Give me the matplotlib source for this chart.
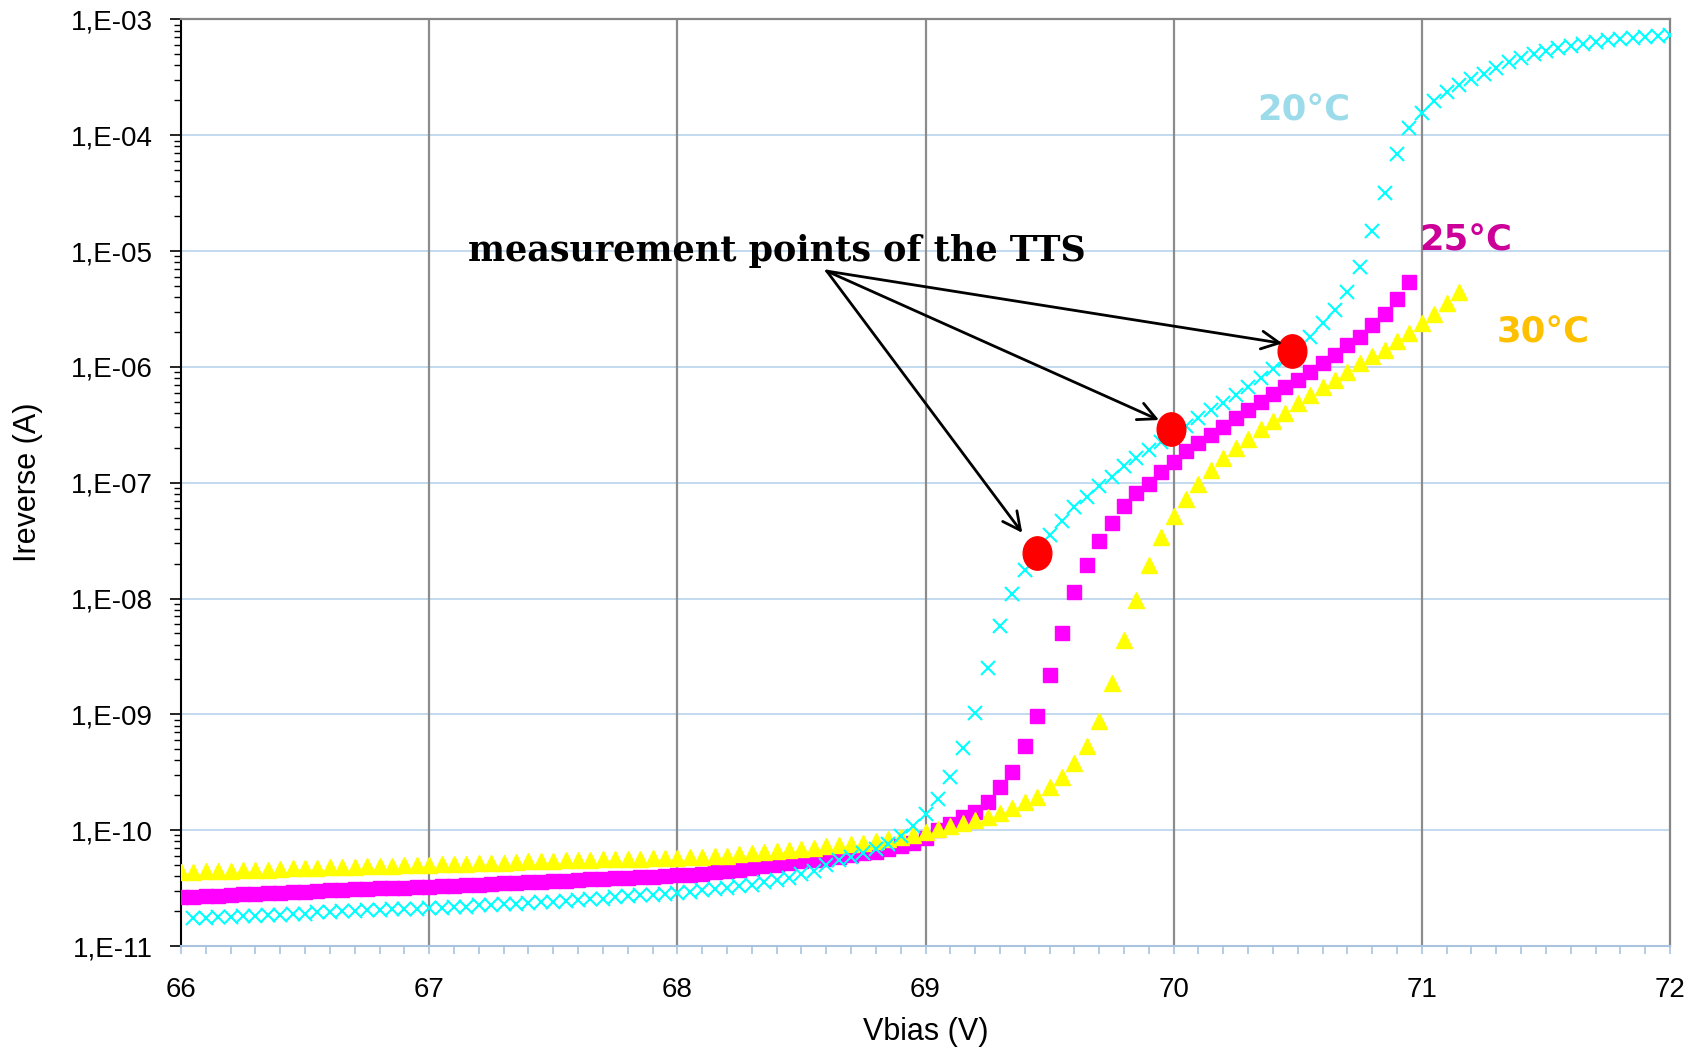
import numpy as np
import matplotlib
matplotlib.use("Agg")
import matplotlib.pyplot as plt
from matplotlib.path import Path
from matplotlib.transforms import Affine2D
from matplotlib.ticker import FixedLocator, FuncFormatter, MultipleLocator

# ---------------- data (log10 of reverse current in A) ----------------
v_start_20, v_stop_20 = 66.05, 72.00
v_start_25, v_stop_25 = 66.00, 70.95
v_start_30, v_stop_30 = 66.00, 71.15
v_step = 0.05

log_i_20 = [
    -10.76, -10.76, -10.75, -10.75, -10.74, -10.74, -10.73, -10.73, -10.72, -10.72,
    -10.71, -10.71, -10.70, -10.70, -10.69, -10.69, -10.68, -10.68, -10.68, -10.67,
    -10.67, -10.66, -10.66, -10.65, -10.65, -10.64, -10.64, -10.63, -10.62, -10.62,
    -10.61, -10.60, -10.59, -10.59, -10.58, -10.57, -10.56, -10.56, -10.55, -10.54,
    -10.53, -10.52, -10.51, -10.50, -10.48, -10.47, -10.45, -10.43, -10.41, -10.38,
    -10.35, -10.30, -10.26, -10.23, -10.20, -10.16, -10.12, -10.05, -9.96, -9.86,
    -9.73, -9.54, -9.29, -8.99, -8.60, -8.24, -7.96, -7.75, -7.60, -7.45,
    -7.33, -7.21, -7.12, -7.03, -6.95, -6.86, -6.79, -6.72, -6.65, -6.58,
    -6.51, -6.445, -6.37, -6.31, -6.24, -6.17, -6.10, -6.02, -5.94, -5.85,
    -5.74, -5.62, -5.51, -5.35, -5.14, -4.83, -4.50, -4.16, -3.94, -3.81,
    -3.705, -3.63, -3.57, -3.515, -3.47, -3.42, -3.37, -3.33, -3.30, -3.27,
    -3.25, -3.23, -3.21, -3.195, -3.18, -3.167, -3.157, -3.148, -3.14, -3.135,
]

log_i_25 = [
    -10.58, -10.575, -10.57, -10.565, -10.56, -10.555, -10.55, -10.545, -10.54, -10.535,
    -10.53, -10.525, -10.52, -10.515, -10.51, -10.505, -10.50, -10.50, -10.495, -10.49,
    -10.49, -10.485, -10.48, -10.475, -10.47, -10.465, -10.46, -10.455, -10.45, -10.445,
    -10.44, -10.435, -10.43, -10.425, -10.42, -10.415, -10.41, -10.405, -10.40, -10.395,
    -10.39, -10.385, -10.375, -10.365, -10.355, -10.34, -10.325, -10.31, -10.30, -10.285,
    -10.27, -10.26, -10.245, -10.23, -10.215, -10.20, -10.185, -10.165, -10.14, -10.11,
    -10.07, -10.00, -9.95, -9.89, -9.84, -9.76, -9.63, -9.50, -9.27, -9.01,
    -8.66, -8.30, -7.94, -7.71, -7.50, -7.35, -7.20, -7.09, -7.01, -6.91,
    -6.82, -6.73, -6.655, -6.59, -6.52, -6.445, -6.37, -6.30, -6.23, -6.17,
    -6.11, -6.04, -5.97, -5.90, -5.81, -5.74, -5.64, -5.54, -5.41, -5.27,
]

log_i_30 = [
    -10.36, -10.36, -10.355, -10.35, -10.35, -10.345, -10.34, -10.34, -10.335, -10.33,
    -10.33, -10.325, -10.32, -10.32, -10.315, -10.31, -10.31, -10.305, -10.30, -10.30,
    -10.30, -10.295, -10.29, -10.29, -10.285, -10.28, -10.28, -10.275, -10.27, -10.27,
    -10.265, -10.26, -10.26, -10.255, -10.25, -10.25, -10.245, -10.245, -10.24, -10.24,
    -10.24, -10.235, -10.23, -10.225, -10.22, -10.21, -10.20, -10.19, -10.18, -10.17,
    -10.16, -10.15, -10.14, -10.13, -10.12, -10.11, -10.095, -10.08, -10.06, -10.04,
    -10.02, -9.99, -9.965, -9.94, -9.91, -9.885, -9.855, -9.81, -9.755, -9.71,
    -9.63, -9.54, -9.42, -9.27, -9.06, -8.73, -8.36, -8.01, -7.71, -7.47,
    -7.29, -7.14, -7.01, -6.89, -6.79, -6.70, -6.62, -6.54, -6.47, -6.40,
    -6.315, -6.24, -6.17, -6.11, -6.04, -5.97, -5.91, -5.855, -5.78, -5.71,
    -5.625, -5.54, -5.45, -5.35,
]

tts_v = [69.448, 69.988, 70.475]
tts_log_i = [-7.61, -6.54, -5.863]

series_labels = ["20°C", "25°C", "30°C"]
annotation_text = "measurement points of the TTS"
x_ticks = [66, 67, 68, 69, 70, 71, 72]
y_decades = [-11, -10, -9, -8, -7, -6, -5, -4, -3]


def grid(a, b):
    n = int(round((b - a) / v_step)) + 1
    return np.round(a + v_step * np.arange(n), 3)


v20 = grid(v_start_20, v_stop_20)
v25 = grid(v_start_25, v_stop_25)
v30 = grid(v_start_30, v_stop_30)
i20 = 10.0 ** np.array(log_i_20)
i25 = 10.0 ** np.array(log_i_25)
i30 = 10.0 ** np.array(log_i_30)

# ---------------- figure ----------------
plt.rcParams['font.family'] = ['Liberation Sans', 'DejaVu Sans']
fig = plt.figure(figsize=(16.86, 10.48), dpi=100)
ax = fig.add_axes([181 / 1686, (1048 - 946) / 1048, (1670 - 181) / 1686, (946 - 19.4) / 1048])

ax.set_yscale('log')
ax.set_xlim(66, 72)
ax.set_ylim(1e-11, 1e-3)

# grid
for d in y_decades[1:-1]:
    ax.axhline(10.0 ** d, color='#BDD7EE', lw=1.3, zorder=0)
for xv in x_ticks[1:-1]:
    ax.axvline(xv, color='#8C8C8C', lw=1.6, zorder=0.5)

# series
ax.plot(v25, i25, ls='none', marker='s', ms=10.5, color='#FF00FF', mec='#FF00FF', zorder=3)
ax.plot(v30, i30, ls='none', marker='^', ms=11, color='#FFFF00', mec='#FFFF00', zorder=3.5)
ax.plot(v20, i20, ls='none', marker='x', ms=10, mew=1.5, color='#00FFFF', zorder=4)

# TTS measurement points (slightly tall ellipses)
circ = Path.unit_circle()
ell = Path(Affine2D().scale(0.86, 1.0).transform(circ.vertices), circ.codes)
ax.plot(tts_v, 10.0 ** np.array(tts_log_i), ls='none', marker=ell, ms=24,
        color='#FF0000', mec='#FF0000', zorder=6)

# annotation
arrow_start = (68.602, 10 ** -5.173)
arrow_tips = [(69.39, 10 ** -7.433), (69.941, 10 ** -6.459), (70.438, 10 ** -5.797)]
for tip in arrow_tips:
    ax.annotate('', xy=tip, xytext=arrow_start,
                arrowprops=dict(arrowstyle='->', lw=2.0, color='black',
                                mutation_scale=32, shrinkA=0, shrinkB=0),
                zorder=7)
ax.text(67.155, 10 ** -5.084, annotation_text, family='DejaVu Serif', fontweight='bold',
        fontsize=25.2, ha='left', va='baseline', zorder=8)

# temperature labels
ax.text(70.335, 10 ** -3.869, series_labels[0], color='#9CDCEA', fontsize=25.5,
        family='DejaVu Sans', fontweight='bold', ha='left', va='baseline', zorder=8)
ax.text(70.99, 10 ** -4.991, series_labels[1], color='#CC0099', fontsize=25.5,
        family='DejaVu Sans', fontweight='bold', ha='left', va='baseline', zorder=8)
ax.text(71.30, 10 ** -5.786, series_labels[2], color='#FFC000', fontsize=25.5,
        family='DejaVu Sans', fontweight='bold', ha='left', va='baseline', zorder=8)

# axes styling
ax.spines['left'].set_color('black')
ax.spines['left'].set_linewidth(1.5)
ax.spines['top'].set_color('#868686')
ax.spines['top'].set_linewidth(1.6)
ax.spines['right'].set_color('#868686')
ax.spines['right'].set_linewidth(1.6)
ax.spines['bottom'].set_color('#A9C3DF')
ax.spines['bottom'].set_linewidth(1.5)

ax.xaxis.set_major_locator(FixedLocator(x_ticks))
ax.xaxis.set_minor_locator(MultipleLocator(0.1))
ax.set_xticklabels([str(t) for t in x_ticks])
ax.tick_params(axis='x', which='both', direction='out', length=6, width=1.2,
               color='#A9C3DF', labelsize=20, pad=16)

ax.yaxis.set_major_locator(FixedLocator([10.0 ** d for d in y_decades]))
minor = [m * 10.0 ** d for d in y_decades[:-1] for m in range(2, 10)]
ax.yaxis.set_minor_locator(FixedLocator(minor))
ax.yaxis.set_major_formatter(FuncFormatter(lambda v, p: "1,E-%02d" % int(round(-np.log10(v)))))
ax.yaxis.set_minor_formatter(FuncFormatter(lambda v, p: ""))
ax.tick_params(axis='y', which='major', direction='out', length=8, width=1.2,
               color='black', labelsize=20, pad=12)
ax.tick_params(axis='y', which='minor', direction='out', length=5, width=1.0, color='black')

ax.set_xlabel("Vbias (V)", fontsize=22, va='center')
ax.xaxis.set_label_coords(0.5, -(1031.7 - 946) / 926.6)
ax.set_ylabel("Ireverse (A)", fontsize=22, va='center')
ax.yaxis.set_label_coords(-(181 - 28) / 1489, 0.5)

fig.savefig("out.png", dpi=100)
